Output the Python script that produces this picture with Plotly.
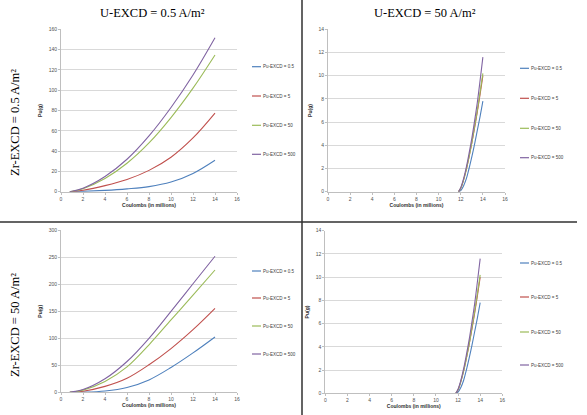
import plotly.graph_objects as go

W, H = 587, 415

series_names = ["Pu-EXCD = 0.5", "Pu-EXCD = 5", "Pu-EXCD = 50", "Pu-EXCD = 500"]
colors = ["#4F81BD", "#C0504D", "#9BBB59", "#8064A2"]

# Top-left: U-EXCD = 0.5, Zr-EXCD = 0.5
x_left = [0.8, 2, 4, 6, 8, 10, 12, 14]
tl_blue = [0, 0.3, 1.3, 2.8, 5, 9.5, 18, 31]
tl_red = [0, 1.5, 6, 12, 21, 34, 53, 77.5]
tl_green = [0, 3, 13, 28, 48, 73, 102, 134.7]
tl_purple = [0, 3.5, 15, 32, 55, 83, 115, 151.7]

# Bottom-left: U-EXCD = 0.5, Zr-EXCD = 50
bl_blue = [0, 0.3, 2.5, 9, 23, 46, 73, 102.5]
bl_red = [0, 2, 11, 26, 51, 81, 116, 155.5]
bl_green = [0, 4, 20, 47, 88, 134, 180, 226.5]
bl_purple = [0, 5, 25, 57, 100, 150, 201, 252]

# Right plots: U-EXCD = 50
x_right = [11.8, 12, 12.25, 12.5, 12.75, 13, 13.25, 13.5, 13.75, 14]
tr_blue = [0, 0.1, 0.5, 1.1, 2.0, 3.0, 4.1, 5.3, 6.5, 7.8]
tr_red = [0, 0.3, 1.0, 1.9, 3.0, 4.2, 5.5, 6.9, 8.4, 10.0]
tr_green = [0, 0.3, 1.0, 1.9, 3.0, 4.2, 5.6, 7.0, 8.6, 10.2]
tr_purple = [0, 0.35, 1.1, 2.1, 3.3, 4.6, 6.1, 7.7, 9.6, 11.6]

br_blue = [0, 0.1, 0.5, 1.1, 2.0, 3.0, 4.1, 5.3, 6.5, 7.8]
br_red = [0, 0.3, 1.0, 1.9, 3.0, 4.2, 5.5, 6.9, 8.4, 10.0]
br_green = [0, 0.3, 1.0, 1.9, 3.0, 4.2, 5.6, 7.0, 8.6, 10.2]
br_purple = [0, 0.35, 1.1, 2.1, 3.3, 4.6, 6.1, 7.7, 9.6, 11.6]

col_titles = ["U-EXCD = 0.5 A/m²", "U-EXCD = 50 A/m²"]
row_titles = ["Zr-EXCD = 0.5 A/m²", "Zr-EXCD = 50 A/m²"]
x_title = "Coulombs (in millions)"
y_title = "Pu(g)"

panels = [
    ("", x_left, [tl_blue, tl_red, tl_green, tl_purple], 160, 20,
     (61, 237, 29.3, 191.7), (252, [66.7, 96, 125.3, 154.3])),
    ("2", x_right, [tr_blue, tr_red, tr_green, tr_purple], 14, 2,
     (328, 505, 29.3, 191.7), (520, [68.3, 98.3, 128.3, 157.7])),
    ("3", x_left, [bl_blue, bl_red, bl_green, bl_purple], 300, 50,
     (61, 237, 230.3, 392.3), (252, [271, 298, 326, 354])),
    ("4", x_right, [br_blue, br_red, br_green, br_purple], 14, 2,
     (325.3, 502.3, 230.7, 393.3), (520, [263, 297, 332, 365])),
]

fig = go.Figure()
tickfont = dict(family="Liberation Sans", size=5, color="#505050")
titlefont = dict(family="Liberation Sans", size=5, color="#303030", weight="bold")
shapes = []
annotations = []

for suffix, xs, ser, ymax, ydt, box, leg in panels:
    x0, x1, y0, y1 = box
    for name, col, ys in zip(series_names, colors, ser):
        fig.add_trace(go.Scatter(
            x=xs, y=ys, mode="lines", name=name, showlegend=False,
            line=dict(color=col, width=1.1, shape="spline", smoothing=1.0),
            xaxis="x" + suffix, yaxis="y" + suffix, hoverinfo="skip"))
    fig.layout["xaxis" + suffix] = dict(
        domain=[x0 / W, x1 / W], range=[0, 16], dtick=2, anchor="y" + suffix,
        showgrid=False, zeroline=False, showline=True, linecolor="#bfbfbf", linewidth=1,
        ticks="outside", ticklen=2, tickcolor="#bfbfbf", tickfont=tickfont,
        title=dict(text=x_title, font=titlefont, standoff=2),
        automargin=False, fixedrange=True)
    fig.layout["yaxis" + suffix] = dict(
        domain=[1 - y1 / H, 1 - y0 / H], range=[0, ymax], dtick=ydt, anchor="x" + suffix,
        showgrid=True, gridcolor="#d9d9d9", gridwidth=1, zeroline=False,
        showline=True, linecolor="#bfbfbf", linewidth=1,
        ticks="outside", ticklen=2, tickcolor="#bfbfbf", tickfont=tickfont,
        title=dict(text=y_title, font=titlefont, standoff=5),
        automargin=False, fixedrange=True)
    lx, lys = leg
    for name, col, ly in zip(series_names, colors, lys):
        shapes.append(dict(type="line", xref="paper", yref="paper",
                           x0=lx / W, x1=(lx + 9) / W, y0=1 - ly / H, y1=1 - ly / H,
                           line=dict(color=col, width=1.2)))
        annotations.append(dict(text=name, xref="paper", yref="paper",
                                x=(lx + 9) / W, y=1 - ly / H, xanchor="left", yanchor="middle",
                                showarrow=False, font=dict(family="Liberation Sans", size=4.5, color="#404040")))

serif = dict(family="Liberation Serif", size=12.5, color="#000000")
for t, cx in zip(col_titles, [152, 425]):
    annotations.append(dict(text=t, xref="paper", yref="paper", x=cx / W, y=1 - 13 / H,
                            xanchor="center", yanchor="middle", showarrow=False, font=serif))
for t, cy in zip(row_titles, [123, 325]):
    annotations.append(dict(text=t, xref="paper", yref="paper", x=15 / W, y=1 - cy / H,
                            xanchor="center", yanchor="middle", textangle=-90,
                            showarrow=False, font=serif))

# Divider lines between the four panels
shapes.append(dict(type="line", xref="paper", yref="paper", x0=302 / W, x1=302 / W, y0=0, y1=1,
                   line=dict(color="#303030", width=1.5)))
shapes.append(dict(type="line", xref="paper", yref="paper", x0=0, x1=577 / W,
                   y0=1 - 222 / H, y1=1 - 222 / H, line=dict(color="#303030", width=1.5)))

fig.update_layout(width=W, height=H, margin=dict(l=0, r=0, t=0, b=0),
                  paper_bgcolor="white", plot_bgcolor="white",
                  shapes=shapes, annotations=annotations, showlegend=False)
fig.write_html("out.html", config={"displayModeBar": False})
